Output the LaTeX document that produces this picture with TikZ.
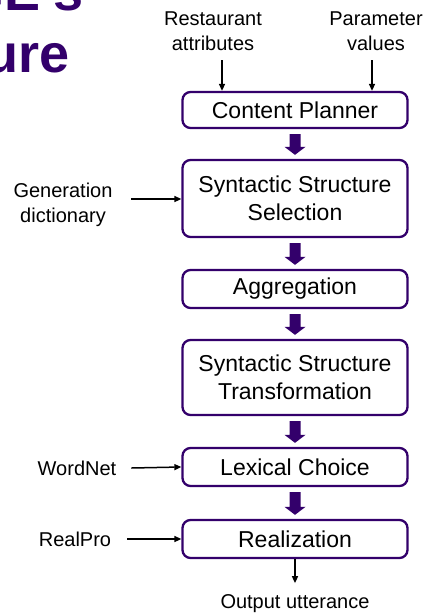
\documentclass[tikz,border=0pt]{standalone}
\usepackage{fontspec}
\setmainfont{Liberation Sans}
\usetikzlibrary{calc,arrows.meta}
\definecolor{purp}{HTML}{33006B}
\tikzset{
  stage/.style={draw=purp, line width=2.3pt, rounded corners=8pt, minimum width=225pt,
    align=center, inner sep=0pt, font=\fontsize{23}{27.6}\selectfont},
  lbl/.style={align=center, inner sep=0pt, font=\fontsize{20}{24.5}\selectfont},
  thin/.style={draw=black, line width=1.5pt, -{Triangle[length=7pt,width=6pt]}},
  ttl/.style={inner sep=0pt, text=purp, font=\fontsize{54}{60}\selectfont\bfseries}
}
% broad purple arrow between two stages
\newcommand{\fatarrow}[2]{%
  \fill[purp] ($(#1.south)+(-5.5,5)$) -- ($(#2.north)+(-5.5,-12)$) -- ($(#2.north)+(-10.5,-12)$)
    -- ($(#2.north)+(0,-4)$) -- ($(#2.north)+(10.5,-12)$) -- ($(#2.north)+(5.5,-12)$)
    -- ($(#1.south)+(5.5,5)$) -- cycle;}
\begin{document}
\begin{tikzpicture}[x=1pt,y=-1pt]
\useasboundingbox (0,0) rectangle (432,614);
\fill[white] (0,0) rectangle (432,614);

% title, partly outside the frame
\begin{scope}
  \clip (0,0) rectangle (432,614);
  \node[ttl, anchor=base east] (t1) at (84,10) {PERSONAGE's};
  \node[ttl, anchor=base east] (t2) at (70,72) {Architecture};
\end{scope}

% pipeline stages
\node[stage, minimum height=36pt] (cp)   at (295,110)   {Content Planner};
\node[stage, minimum height=77pt] (sel)  at (295,198.5) {Syntactic Structure\\Selection};
\node[stage, minimum height=38pt] (agg)  at (295,289)   {Aggregation};
\node[stage, minimum height=75pt] (tr)   at (295,377.5) {Syntactic Structure\\Transformation};
\node[stage, minimum height=38pt] (lex)  at (295,467)   {Lexical Choice};
\node[stage, minimum height=38pt] (real) at (295,539)   {Realization};

\fatarrow{cp}{sel}
\fatarrow{sel}{agg}
\fatarrow{agg}{tr}
\fatarrow{tr}{lex}
\fatarrow{lex}{real}

% inputs and output
\node[lbl, anchor=base] (rest) at (213,50) {Restaurant\\attributes};
\node[lbl, anchor=base] (par)  at (376,50) {Parameter\\values};
\node[lbl] (gen)  at (63,205) {Generation\\dictionary};
\node[lbl] (wn)   at (77,468) {WordNet};
\node[lbl] (rp)   at (75,539) {RealPro};
\node[lbl, anchor=base] (out) at (295,608) {Output utterance};

\coordinate (ra) at (222,60);
\coordinate (pa) at (372,60);
\draw[thin] (ra) -- (ra |- cp.north);
\draw[thin] (pa) -- (pa |- cp.north);
\coordinate (ga) at (131,199);
\draw[thin] (ga) -- (ga -| sel.west);
\draw[thin] ($(wn.east)+(15,0)$) -- (lex.west);
\draw[thin] ($(rp.east)+(16,0)$) -- (real.west);
\draw[thin] (real.south) -- ++(0,24);
\end{tikzpicture}
\end{document}
